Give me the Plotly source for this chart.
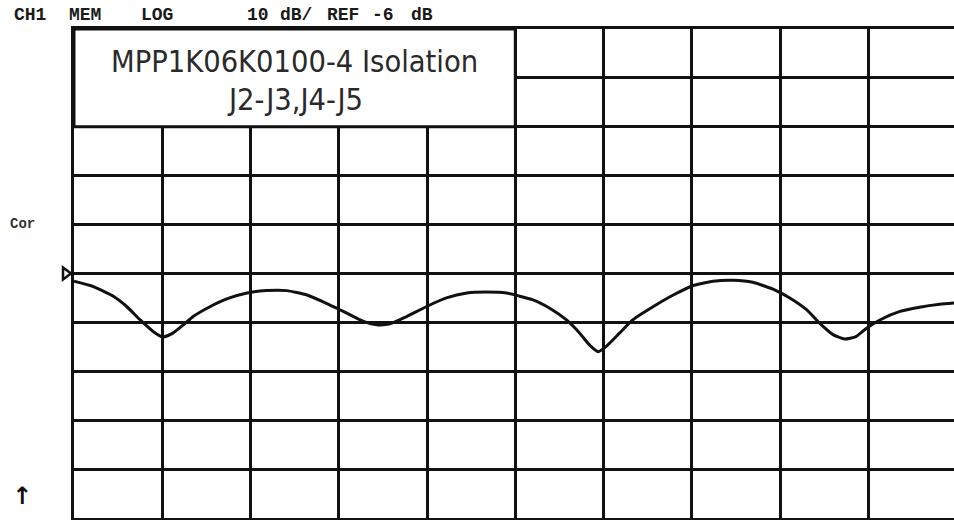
import plotly.graph_objects as go

# ---- data ----
sweep_div = [0.00, 0.22, 0.45, 0.60, 0.75, 0.90, 1.01, 1.12, 1.24, 1.35,
             1.54, 1.73, 1.96, 2.18, 2.41, 2.64, 2.86, 3.09, 3.28, 3.43,
             3.58, 3.77, 3.99, 4.22, 4.45, 4.67, 4.90, 5.20, 5.39, 5.58,
             5.73, 5.84, 5.94, 6.03, 6.18, 6.33, 6.56, 6.79, 7.01, 7.24,
             7.47, 7.69, 7.92, 8.11, 8.30, 8.45, 8.60, 8.73, 8.86, 8.98,
             9.13, 9.35, 9.58, 9.81, 10.00]
isolation_db = [-7.6, -8.7, -10.7, -12.8, -15.5, -17.9, -19.0, -18.2, -16.5, -14.8,
                -12.8, -11.2, -10.0, -9.5, -9.5, -10.4, -12.1, -14.1, -15.8, -16.5,
                -16.3, -14.8, -12.8, -11.0, -10.0, -9.8, -10.0, -11.4, -13.1, -15.5,
                -18.2, -20.6, -22.0, -20.9, -18.2, -15.5, -12.8, -10.4, -8.5, -7.6,
                -7.4, -7.8, -9.2, -11.0, -13.4, -16.2, -18.5, -19.4, -18.9, -17.2,
                -15.5, -13.8, -12.9, -12.3, -12.0]

REF_DB = -6
DB_PER_DIV = 10
N_DIV = 10
header_tokens = ["CH1", "MEM", "LOG", "10", "dB/", "REF", "-6", "dB"]
header_left_px = [12, 67, 139, 245, 278, 325, 370, 409]
title_lines = ["MPP1K06K0100-4 Isolation", "J2-J3,J4-J5"]

# ---- layout geometry (page pixels; body margin removed by post_script) ----
W, H = 954, 520
PLOT_L, PLOT_T, PLOT_B = 74, 29, 518      # plot area edges in page pixels
L = PLOT_L
T = PLOT_T
B = H - PLOT_B
R = 0
plot_w = W - PLOT_L
plot_h = PLOT_B - PLOT_T
div_px = 88.26
y_top = REF_DB + DB_PER_DIV * N_DIV / 2
y_bot = REF_DB - DB_PER_DIV * N_DIV / 2


def px_x(px):
    return (px - PLOT_L) / plot_w


def px_y(py):
    return (PLOT_B - py) / plot_h


fig = go.Figure()
fig.add_trace(go.Scatter(
    x=sweep_div, y=isolation_db, mode="lines",
    line=dict(color="#111111", width=3, shape="spline", smoothing=0.5),
    hoverinfo="skip", showlegend=False,
))

# title box covering the top-left cells
fig.add_shape(type="rect", xref="x", yref="y", x0=0, x1=5,
              y0=y_top - 2 * DB_PER_DIV, y1=y_top,
              fillcolor="white", line=dict(color="#111111", width=3),
              layer="above")

# reference-level marker (open triangle just left of the grid)
fig.add_shape(type="path", xref="paper", yref="y",
              xsizemode="pixel", ysizemode="pixel",
              xanchor=px_x(71), yanchor=REF_DB,
              path="M -8,-6 L 0,0 L -8,6 Z",
              fillcolor="white", line=dict(color="#111111", width=2.5),
              layer="above")

annotations = []
for txt, y_px, in zip(title_lines, [61.7, 100]):
    annotations.append(dict(
        text=txt, xref="x", yref="paper", x=2.5, y=px_y(y_px),
        showarrow=False, xanchor="center", yanchor="middle",
        font=dict(family="DejaVu Sans Condensed, DejaVu Sans", size=30.5, color="#2a2a2a"),
    ))
for tok, lx in zip(header_tokens, header_left_px):
    annotations.append(dict(
        text=tok, xref="paper", yref="paper", x=px_x(lx), y=px_y(15),
        showarrow=False, xanchor="left", yanchor="middle",
        font=dict(family="Liberation Mono", size=18, color="#1a1a1a", weight="bold"),
    ))
annotations.append(dict(
    text="Cor", xref="paper", yref="paper", x=px_x(8), y=px_y(224),
    showarrow=False, xanchor="left", yanchor="middle",
    font=dict(family="Liberation Mono", size=14, color="#333333", weight="bold"),
))
annotations.append(dict(
    text="↑", xref="paper", yref="paper", x=px_x(22), y=px_y(496),
    showarrow=False, xanchor="center", yanchor="middle",
    font=dict(family="DejaVu Sans", size=24, color="#111111", weight="bold"),
))

fig.update_layout(
    width=W, height=H,
    margin=dict(l=L, r=R, t=T, b=B, autoexpand=False),
    paper_bgcolor="white", plot_bgcolor="white",
    annotations=annotations,
    hovermode=False,
    xaxis=dict(range=[0, plot_w / div_px], tick0=0, dtick=1,
               showgrid=True, gridcolor="#111111", gridwidth=3,
               showticklabels=False, ticks="", zeroline=False,
               showline=True, linecolor="#111111", linewidth=3, mirror=True,
               fixedrange=True),
    yaxis=dict(range=[y_bot, y_top], tick0=y_bot, dtick=DB_PER_DIV,
               showgrid=True, gridcolor="#111111", gridwidth=3,
               showticklabels=False, ticks="", zeroline=False,
               showline=True, linecolor="#111111", linewidth=3, mirror=True,
               fixedrange=True),
)

fig.write_html("out.html", config={"displayModeBar": False},
               post_script="document.body.style.margin='0';")
